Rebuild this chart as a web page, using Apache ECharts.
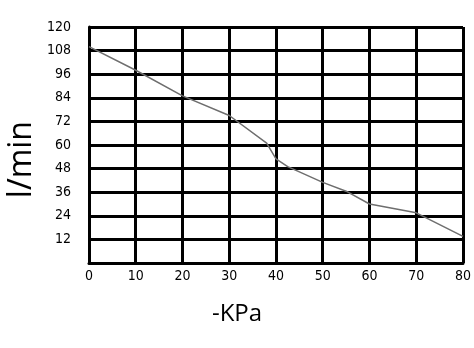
<!DOCTYPE html>
<html>
<head>
<meta charset="utf-8">
<script src="https://cdn.jsdelivr.net/npm/echarts@6/dist/echarts.min.js"></script>
<style>html,body{margin:0;padding:0;background:#fff}#c{width:474px;height:348px}</style>
</head>
<body>
<div id="c"></div>
<script>
var pressure = [0, 10, 20, 30, 38, 40, 42.5, 50, 55, 60, 70, 80];
var flow = [110, 98, 85, 75, 61, 53, 49, 41, 36.5, 30, 25.5, 13.5];
var xTicks = [0, 10, 20, 30, 40, 50, 60, 70, 80];
var yTicks = [0, 12, 24, 36, 48, 60, 72, 84, 96, 108, 120];
var xName = '-KPa';
var yName = 'l/min';

var chart = echarts.init(document.getElementById('c'));
var pts = pressure.map(function (p, i) { return [p, flow[i]]; });
var lab = { color: '#000', fontFamily: 'DejaVu Sans Condensed', fontSize: 14 };
chart.setOption({
  animation: false,
  backgroundColor: '#fff',
  title: {
    text: xName, left: 'center', top: 297,
    textStyle: { fontFamily: 'Open Sans', fontSize: 24, fontWeight: 'normal', color: '#000' }
  },
  graphic: [{
    type: 'text', left: 6, top: 121, rotation: Math.PI / 2,
    style: { text: yName, fontFamily: 'Open Sans', fontSize: 32, fill: '#000' }
  }],
  grid: { left: 89, right: 7, top: 27, bottom: 85 },
  xAxis: {
    type: 'value', min: xTicks[0], max: xTicks[xTicks.length - 1], interval: 10,
    axisLine: { lineStyle: { color: '#000', width: 3 } },
    axisTick: { show: false },
    splitLine: { show: true, lineStyle: { color: '#000', width: 3 } },
    axisLabel: Object.assign({ margin: 6 }, lab)
  },
  yAxis: {
    type: 'value', min: yTicks[0], max: yTicks[yTicks.length - 1], interval: 12,
    axisLine: { show: true, lineStyle: { color: '#000', width: 3 } },
    axisTick: { show: false },
    splitLine: { show: true, lineStyle: { color: '#000', width: 3 } },
    axisLabel: Object.assign({ margin: 18, formatter: function (v) { return v === 0 ? '' : String(v); } }, lab)
  },
  series: [{
    type: 'line', data: pts, showSymbol: false, symbol: 'none',
    lineStyle: { color: '#6e6e6e', width: 1.5 }, z: 5
  }]
});
</script>
</body>
</html>
